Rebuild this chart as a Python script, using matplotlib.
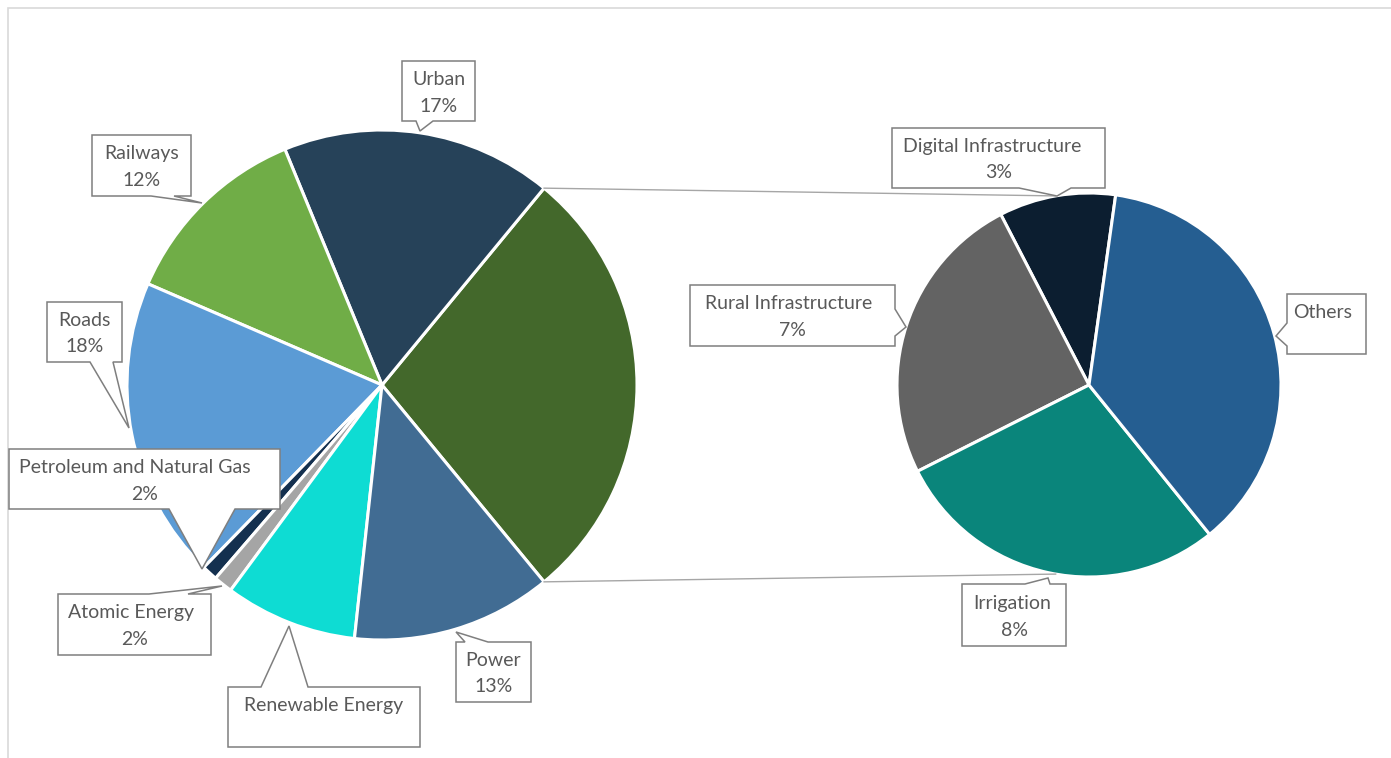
import numpy as np
import matplotlib
matplotlib.use("Agg")
import matplotlib.pyplot as plt
from matplotlib.patches import Polygon, Rectangle

W, H = 1391, 758

# ---------------------------------------------------------------------------
# data (main pie counter-clockwise, starting with the split-off slice)
# ---------------------------------------------------------------------------
main_names = ["Other", "Urban", "Railways", "Roads", "Petroleum and Natural Gas",
              "Atomic Energy", "Renewable Energy", "Power"]
main_values = [28.1, 17.2, 12.3, 19.2, 1.0, 1.2, 8.4, 12.7]
main_pct = [None, "17%", "12%", "18%", "2%", "2%", "", "13%"]
main_colors = ["#43682B", "#264259", "#70AD47", "#5B9BD5", "#14304F",
               "#A5A5A5", "#0EDCD3", "#416C93"]

sec_names = ["Digital Infrastructure", "Rural Infrastructure", "Irrigation", "Others"]
sec_values = [2.75, 6.95, 7.95, 10.35]
sec_pct = ["3%", "7%", "8%", None]
sec_colors = ["#0C1E30", "#636363", "#0A857B", "#255E91"]

# callout layout in pixel coords (y down): box, side of pointer, base, tip, text shift
callouts = {
    "Urban": ((402, 61, 475, 121), "bottom", (416, 433), (420, 131), 0),
    "Railways": ((92, 135, 191, 196), "bottom", (151, 174), (202, 203), 0),
    "Roads": ((47, 302, 122, 362), "bottom", (90, 113), (129, 428), 0),
    "Petroleum and Natural Gas": ((9, 449, 280, 509), "bottom", (169, 235), (202, 569), -10),
    "Atomic Energy": ((58, 594, 211, 655), "top", (149, 188), (222, 586), -4),
    "Renewable Energy": ((228, 687, 420, 747), "top", (261, 308), (289, 626), 0),
    "Power": ((456, 642, 531, 702), "top", (465, 488), (456, 632), 0),
    "Digital Infrastructure": ((892, 128, 1105, 188), "bottom", (1019, 1071), (1057, 196), -6),
    "Rural Infrastructure": ((690, 285, 895, 346), "right", (309, 336), (906, 327), -4),
    "Others": ((1287, 294, 1366, 354), "left", (323, 346), (1276, 336), -4),
    "Irrigation": ((962, 584, 1066, 646), "top", (1025, 1050), (1048, 578), -2),
}

plt.rcParams['font.family'] = ['Lato', 'DejaVu Sans']
TXT = "#595959"
EDGE = "#7F7F7F"


def P(x, y):
    return (x, H - y)


def callout(ax, name, pct):
    (l, t, r, b), side, (a, c), tip, dx = callouts[name]
    if side == "top":
        pts = [(l, t), (a, t), tip, (c, t), (r, t), (r, b), (l, b)]
    elif side == "bottom":
        pts = [(l, t), (r, t), (r, b), (c, b), tip, (a, b), (l, b)]
    elif side == "right":
        pts = [(l, t), (r, t), (r, a), tip, (r, c), (r, b), (l, b)]
    else:
        pts = [(l, t), (r, t), (r, b), (l, b), (l, c), tip, (l, a)]
    ax.add_patch(Polygon([P(*p) for p in pts], closed=True, facecolor="white",
                         edgecolor=EDGE, linewidth=1.1, zorder=5))
    cx = (l + r) / 2
    ax.text(*P(cx + dx, t + 0.31 * (b - t)), name, ha="center", va="center",
            color=TXT, fontsize=14, zorder=6)
    if pct:
        ax.text(*P(cx, t + 0.75 * (b - t)), pct, ha="center", va="center",
                color=TXT, fontsize=14, zorder=6)


fig = plt.figure(figsize=(W / 100, H / 100), dpi=100)
ax = fig.add_axes([0, 0, 1, 1])

main_c = (382, H - 385)
main_r = 255
sec_c = (1089, H - 385)
sec_r = 192

half = main_values[0] / sum(main_values) * 180
wedges, _ = ax.pie(main_values, colors=main_colors, startangle=-half,
                   counterclock=True, center=main_c, radius=main_r,
                   wedgeprops=dict(edgecolor="white", linewidth=2.2))
ax.pie(sec_values, colors=sec_colors, startangle=82, counterclock=True,
       center=sec_c, radius=sec_r,
       wedgeprops=dict(edgecolor="white", linewidth=2.2))

# connector lines from the split slice to the secondary pie
for ang_main, ang_sec in [(half, 100), (-half, 260)]:
    x0 = main_c[0] + main_r * np.cos(np.radians(ang_main))
    y0 = main_c[1] + main_r * np.sin(np.radians(ang_main))
    x1 = sec_c[0] + sec_r * np.cos(np.radians(ang_sec))
    y1 = sec_c[1] + sec_r * np.sin(np.radians(ang_sec))
    ax.plot([x0, x1], [y0, y1], color="#A6A6A6", linewidth=1.0, zorder=1)

for name, pct in zip(main_names[1:], main_pct[1:]):
    callout(ax, name, pct)
for name, pct in zip(sec_names, sec_pct):
    callout(ax, name, pct)

# chart area border
ax.add_patch(Rectangle(P(8, 800), 1500, 792, fill=False, edgecolor="#D9D9D9",
                       linewidth=1.2, zorder=0))

ax.set_xlim(0, W)
ax.set_ylim(0, H)
ax.set_aspect("equal")
ax.axis("off")

fig.savefig("out.png", dpi=100, facecolor="white")
